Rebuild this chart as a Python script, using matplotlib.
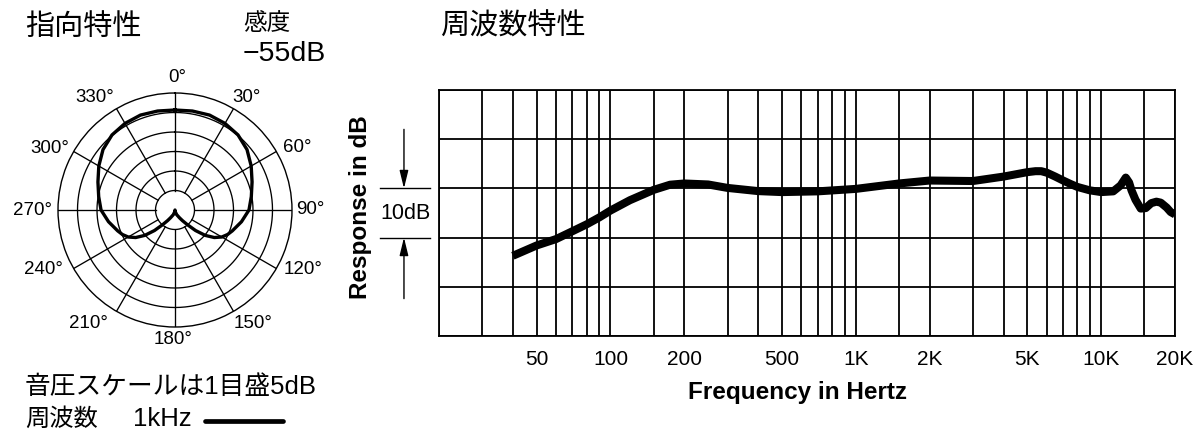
import matplotlib
matplotlib.use("Agg")
import matplotlib.pyplot as plt
import numpy as np
from matplotlib.ticker import NullFormatter
from matplotlib.transforms import blended_transform_factory

plt.rcParams['font.family'] = ['Liberation Sans', 'Noto Sans CJK JP', 'DejaVu Sans']

# ---------------- data ----------------
# polar pattern (1 kHz), angle in degrees, level in dB
polar_angles = [0, 10, 20, 30, 40, 50, 60, 70, 80, 90, 100, 110, 115, 120, 125, 130, 135, 140, 145,
                150, 160, 170, 180,
                190, 200, 210, 215, 220, 225, 230, 235, 240, 245, 250, 260, 270, 280, 290, 300,
                310, 320, 330, 340, 350, 360]
polar_db = [-4.36, -4.23, -4.10, -4.36, -4.87, -5.90, -7.44, -8.97, -10.13, -11.03, -12.69, -14.36, -15.13,
            -16.15, -17.69, -19.87, -22.56, -25.13, -26.67,
            -27.69, -28.72, -29.49, -30.0,
            -29.49, -28.72, -27.69, -26.67, -25.13, -22.56, -19.87, -17.69, -16.15, -15.13, -14.36, -12.69,
            -11.03, -10.13, -8.97, -7.44,
            -5.90, -4.87, -4.36, -4.10, -4.23, -4.36]
ring_levels = [-25, -20, -15, -10, -5]
spoke_angles = [0, 30, 60, 90, 120, 150, 180, 210, 240, 270, 300, 330]
angle_labels = ["0°", "30°", "60°", "90°", "120°", "150°", "180°", "210°", "240°", "270°", "300°", "330°"]

# frequency response
freq_hz = [40, 50, 60, 70, 80, 90, 100, 120, 150, 175, 200, 250, 300, 400, 500, 700,
           1000, 1500, 2000, 3000, 4000, 5000, 5400, 5700, 6000, 6500, 7000, 7500, 8000, 9000, 10000,
           11200, 12000, 12600, 13000, 13300, 13800, 14500, 15200, 16000, 16800, 17500, 18500, 19200, 20000]
resp_db = [-13.7, -11.6, -10.3, -8.7, -7.3, -5.9, -4.5, -2.4, -0.3, 0.75, 1.0, 0.8, 0.1, -0.55, -0.75, -0.6,
           -0.1, 1.0, 1.6, 1.5, 2.4, 3.3, 3.5, 3.5, 3.2, 2.4, 1.6, 0.9, 0.3, -0.4, -0.75,
           -0.6, 0.6, 2.2, 1.2, -0.4, -2.3, -4.1, -4.0, -3.0, -2.7, -2.9, -3.9, -4.8, -5.3]
tick_freqs = [50, 100, 200, 500, 1000, 2000, 5000, 10000, 20000]
tick_labels = ["50", "100", "200", "500", "1K", "2K", "5K", "10K", "20K"]
grid_freqs = [20, 30, 40, 50, 60, 70, 80, 90, 100, 150, 200, 300, 400, 500, 600, 700, 800, 900,
              1000, 1500, 2000, 3000, 4000, 5000, 6000, 7000, 8000, 9000, 10000, 15000, 20000]
db_grid = [-30, -20, -10, 0, 10, 20]

# ---------------- figure ----------------
W, H = 1200, 440
fig = plt.figure(figsize=(12, 4.4), dpi=100)
fig.patch.set_facecolor('white')

def fx(px):
    return px / W

def fy(py):
    return 1 - py / H

# ---- polar plot ----
cx, cy, R = 175, 210, 117
axp = fig.add_axes([fx(cx - R), fy(cy + R), 2 * R / W, 2 * R / H], projection='polar')
axp.set_theta_zero_location('N')
axp.set_theta_direction(-1)
axp.set_ylim(-30, 0)
axp.set_xticks([])
axp.set_yticks([])
axp.grid(False)
axp.spines['polar'].set_linewidth(1.0)
tt = np.linspace(0, 2 * np.pi, 361)
for lvl in ring_levels:
    axp.plot(tt, np.full_like(tt, lvl), color='black', lw=0.95)
for a in spoke_angles:
    axp.plot([np.deg2rad(a)] * 2, [-25, 0], color='black', lw=0.95)
axp.plot(np.deg2rad(polar_angles), polar_db, color='black', lw=2.4, solid_joinstyle='round')

# label centres (figure pixels) around the polar chart
label_pos = [(177, 77), (247, 97), (297, 147), (310, 209), (303, 270), (253, 323),
             (173, 340), (88, 323), (43, 270), (33, 210), (50, 148), (95, 97)]
for (lx, ly), lab in zip(label_pos, angle_labels):
    fig.text(fx(lx), fy(ly), lab, ha='center', va='center', fontsize=13.5)

# ---- frequency response ----
axf = fig.add_axes([fx(439), fy(336), 736 / W, 246 / H])
axf.set_xscale('log')
axf.set_xlim(20, 20000)
axf.set_ylim(-30, 20)
axf.set_xticks(tick_freqs, tick_labels)
axf.set_xticks(grid_freqs, minor=True)
axf.xaxis.set_minor_formatter(NullFormatter())
axf.set_yticks(db_grid)
axf.set_yticklabels([])
axf.tick_params(which='both', length=0)
axf.tick_params(axis='x', pad=10, labelsize=15)
axf.grid(True, which='both', color='black', lw=1.3)
for s in axf.spines.values():
    s.set_linewidth(1.3)
axf.plot(freq_hz, resp_db, color='black', lw=5.8, solid_capstyle='butt', solid_joinstyle='round')

trans = blended_transform_factory(axf.transAxes, axf.transData)
for yv in (0, -10):
    axf.plot([-0.080, -0.012], [yv, yv], color='black', lw=1.0, transform=trans, clip_on=False)
arrow_kw = dict(arrowstyle='-|>,head_length=0.9,head_width=0.22', color='black', lw=1.0,
                mutation_scale=12, shrinkA=0, shrinkB=0)
axf.annotate('', xy=(-0.0476, 0), xytext=(-0.0476, 12), xycoords=trans, textcoords=trans,
             arrowprops=arrow_kw, annotation_clip=False)
axf.annotate('', xy=(-0.0476, -10), xytext=(-0.0476, -22.4), xycoords=trans, textcoords=trans,
             arrowprops=arrow_kw, annotation_clip=False)
axf.text(-0.046, -5, '10dB', transform=trans, ha='center', va='center', fontsize=15.5)

fig.text(fx(797), fy(392), 'Frequency in Hertz', ha='center', va='center', fontsize=17.5, fontweight='bold')
fig.text(fx(360), fy(207), 'Response in dB', ha='center', va='center', fontsize=17.5,
         fontweight='bold', rotation=90)

# ---- texts ----
fig.text(fx(25), fy(27), '指向特性', ha='left', va='center', fontsize=21)
fig.text(fx(243), fy(24), '感度', ha='left', va='center', fontsize=17)
fig.text(fx(243), fy(54), '−55dB', ha='left', va='center', fontsize=20.5)
fig.text(fx(440), fy(27), '周波数特性', ha='left', va='center', fontsize=21)
fig.text(fx(25), fy(387), '音圧スケールは1目盛5dB', ha='left', va='center', fontsize=18.5)
fig.text(fx(25), fy(419), '周波数', ha='left', va='center', fontsize=17.5)
fig.text(fx(133), fy(419), '1kHz', ha='left', va='center', fontsize=18.5)
fig.lines.append(plt.Line2D([fx(205), fx(283)], [fy(421), fy(421)], transform=fig.transFigure,
                            color='black', lw=3.4, solid_capstyle='round'))

fig.savefig('out.png', dpi=100, facecolor='white')
